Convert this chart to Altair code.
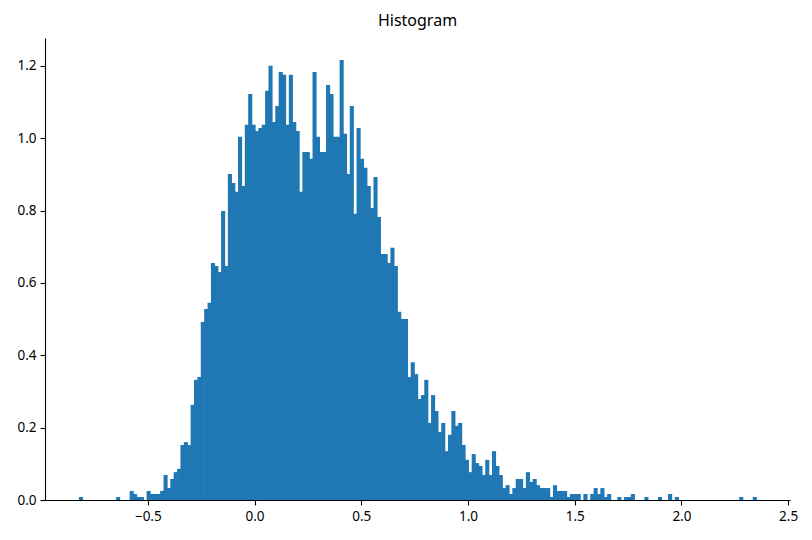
import altair as alt
import pandas as pd

# histogram: first bin left edge, bin width, and density of each of the 200 bins
bin_start = -0.823
bin_width = 0.015865
density = [
    0.0083, 0, 0, 0, 0, 0, 0, 0, 0, 0,
    0, 0.0083, 0, 0, 0, 0.025, 0.0166, 0.0083, 0.0083, 0,
    0.025, 0.0166, 0.0166, 0.0166, 0.025, 0.069, 0.033, 0.058, 0.077, 0.086,
    0.152, 0.160, 0.152, 0.263, 0.332, 0.340, 0.492, 0.528, 0.545, 0.655,
    0.647, 0.630, 0.799, 0.647, 0.901, 0.876, 0.852, 1.004, 0.868, 1.037,
    1.122, 1.037, 1.020, 1.028, 1.037, 1.131, 1.200, 1.045, 1.089, 1.183,
    1.175, 1.037, 1.175, 1.045, 1.020, 0.852, 0.962, 0.962, 0.943, 1.183,
    1.004, 0.962, 0.962, 1.147, 1.122, 1.004, 1.004, 1.216, 1.012, 0.901,
    1.089, 0.791, 1.028, 0.943, 0.918, 0.868, 0.807, 0.893, 0.782, 0.680,
    0.680, 0.655, 0.697, 0.647, 0.520, 0.500, 0.500, 0.340, 0.381, 0.348,
    0.279, 0.290, 0.332, 0.213, 0.290, 0.246, 0.188, 0.213, 0.135, 0.180,
    0.246, 0.205, 0.213, 0.152, 0.111, 0.077, 0.127, 0.102, 0.094, 0.069,
    0.111, 0.069, 0.135, 0.094, 0.069, 0.033, 0.041, 0.0166, 0.033, 0.058,
    0.058, 0.033, 0.077, 0.050, 0.058, 0.041, 0.033, 0.033, 0.033, 0.0083,
    0.041, 0.025, 0.025, 0.025, 0.0083, 0.0166, 0.0166, 0.0166, 0, 0.0166,
    0, 0.0166, 0.033, 0.0166, 0.033, 0.0083, 0.0166, 0, 0, 0.0083,
    0, 0.0083, 0.0083, 0.0166, 0, 0, 0, 0.0083, 0, 0,
    0, 0.0083, 0, 0, 0.0166, 0, 0.0083, 0, 0, 0,
    0, 0, 0, 0, 0, 0, 0, 0, 0, 0,
    0, 0, 0, 0, 0, 0.0083, 0, 0, 0, 0.0083,
]
x_ticks = [-0.5, 0.0, 0.5, 1.0, 1.5, 2.0, 2.5]
y_ticks = [0.0, 0.2, 0.4, 0.6, 0.8, 1.0, 1.2]
title = "Histogram"

n = len(density)
lo = [bin_start + i * bin_width for i in range(n)]
hi = [bin_start + (i + 1) * bin_width for i in range(n)]
df = pd.DataFrame({"lo": lo, "hi": hi, "density": density})
df = df[df["density"] > 0]

span = hi[-1] - lo[0]
x_dom = [lo[0] - 0.05 * span, hi[-1] + 0.05 * span]
y_dom = [0, max(density) * 1.05]

FONT = "Noto Sans"

bars = (
    alt.Chart(df)
    .mark_rect(color="#1f77b4", strokeWidth=0, x2Offset=0.7)
    .encode(
        x=alt.X(
            "lo:Q",
            scale=alt.Scale(domain=x_dom, nice=False, zero=False),
            axis=alt.Axis(values=x_ticks, format=".1f", title=None, grid=False,
                          labelPadding=4),
        ),
        x2="hi:Q",
        y=alt.Y(
            "density:Q",
            scale=alt.Scale(domain=y_dom, nice=False),
            axis=alt.Axis(values=y_ticks, format=".1f", title=None, grid=False,
                          labelPadding=4),
        ),
        y2=alt.datum(0),
    )
)

chart = (
    bars.properties(
        width=745,
        height=462,
        title=alt.TitleParams(title, fontSize=16, font=FONT, fontWeight="normal",
                              color="#000000", offset=9),
        autosize=alt.AutoSizeParams(type="none"),
        padding={"left": 37, "top": 30, "right": 14, "bottom": 30},
    )
    .configure_view(stroke=None)
    .configure_axis(
        domainColor="#000000",
        domainWidth=1.1,
        tickColor="#000000",
        tickWidth=1.1,
        tickSize=5,
        labelFont=FONT,
        labelFontSize=13.5,
        labelColor="#000000",
    )
)

chart.save("out.html", embed_options={"renderer": "svg", "actions": False})
